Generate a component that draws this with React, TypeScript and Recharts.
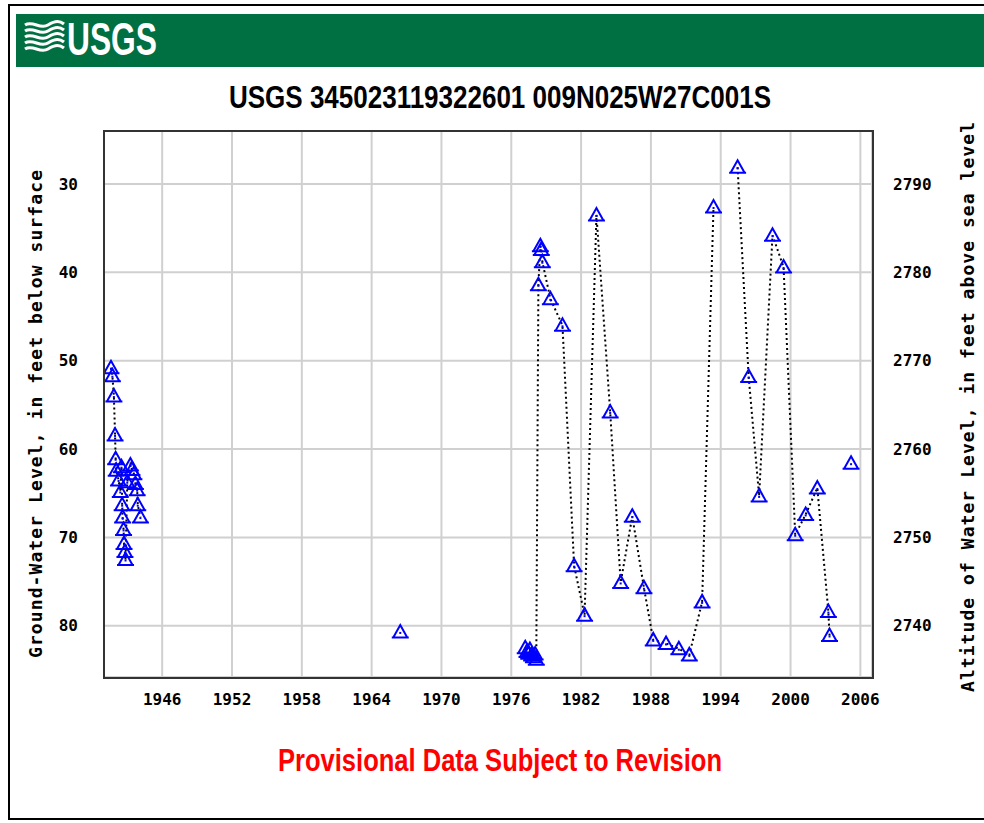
import React from 'react';
import { LineChart, Line, XAxis, YAxis, CartesianGrid } from 'recharts';

// depth to water (ft below land surface)
const early1940s = [
  { year: 1941.6, depth: 50.8 },
  { year: 1941.72, depth: 51.7 },
  { year: 1941.85, depth: 54.0 },
  { year: 1941.95, depth: 58.4 },
  { year: 1942.0, depth: 61.1 },
  { year: 1942.05, depth: 62.4 },
  { year: 1942.25, depth: 63.5 },
  { year: 1942.4, depth: 64.8 },
  { year: 1942.5, depth: 62.0 },
  { year: 1942.56, depth: 66.3 },
  { year: 1942.6, depth: 67.7 },
  { year: 1942.68, depth: 69.1 },
  { year: 1942.72, depth: 70.7 },
  { year: 1942.8, depth: 71.6 },
  { year: 1942.85, depth: 72.5 },
  { year: 1943.0, depth: 63.7 },
  { year: 1943.27, depth: 61.8 },
  { year: 1943.4, depth: 62.3 },
  { year: 1943.57, depth: 62.8 },
  { year: 1943.7, depth: 63.9 },
  { year: 1943.85, depth: 64.6 },
  { year: 1943.9, depth: 66.3 },
  { year: 1944.13, depth: 67.7 },
];

const mid1960s = [{ year: 1966.46, depth: 80.7 }];

const late1970sTo1993 = [
  { year: 1977.2, depth: 82.5 },
  { year: 1977.35, depth: 82.9 },
  { year: 1977.5, depth: 83.1 },
  { year: 1977.6, depth: 82.7 },
  { year: 1977.75, depth: 83.3 },
  { year: 1977.9, depth: 83.5 },
  { year: 1978.05, depth: 83.2 },
  { year: 1978.15, depth: 83.8 },
  { year: 1978.33, depth: 41.4 },
  { year: 1978.5, depth: 37.0 },
  { year: 1978.58, depth: 37.4 },
  { year: 1978.67, depth: 38.8 },
  { year: 1979.36, depth: 43.0 },
  { year: 1980.4, depth: 46.0 },
  { year: 1981.4, depth: 73.2 },
  { year: 1982.3, depth: 78.8 },
  { year: 1983.32, depth: 33.5 },
  { year: 1984.5, depth: 55.8 },
  { year: 1985.4, depth: 75.1 },
  { year: 1986.4, depth: 67.6 },
  { year: 1987.4, depth: 75.7 },
  { year: 1988.2, depth: 81.6 },
  { year: 1989.3, depth: 82.0 },
  { year: 1990.4, depth: 82.6 },
  { year: 1991.3, depth: 83.3 },
  { year: 1992.4, depth: 77.3 },
  { year: 1993.38, depth: 32.6 },
];

const mid1990sTo2003 = [
  { year: 1995.45, depth: 28.1 },
  { year: 1996.4, depth: 51.8 },
  { year: 1997.3, depth: 65.3 },
  { year: 1998.45, depth: 35.8 },
  { year: 1999.4, depth: 39.4 },
  { year: 2000.4, depth: 69.7 },
  { year: 2001.3, depth: 67.4 },
  { year: 2002.3, depth: 64.4 },
  { year: 2003.25, depth: 78.4 },
  { year: 2003.35, depth: 81.1 },
];

const latest = [{ year: 2005.2, depth: 61.6 }];

const segments = [early1940s, mid1960s, late1970sTo1993, mid1990sTo2003, latest];

const yearTicks = [1946, 1952, 1958, 1964, 1970, 1976, 1982, 1988, 1994, 2000, 2006];
const depthTicks = [30, 40, 50, 60, 70, 80];
const altitudeTicks = [2740, 2750, 2760, 2770, 2780, 2790];

const LAND_SURFACE = 2820;
const DEPTH_DOMAIN: [number, number] = [24, 85.8];

const mono = '"DejaVu Sans Mono", monospace';

const tickFont = {
  fontSize: 16,
  fontFamily: mono,
  fontWeight: 'bold',
  fill: '#000',
};

const narrowBold = '"Liberation Sans Narrow", "Liberation Sans", Arial, sans-serif';

const Triangle = (props: any) => {
  const { cx, cy } = props;
  if (cx == null || cy == null) return null;
  return (
    <g>
      <path
        d={`M${cx - 8.5},${cy + 5.5}H${cx + 8.5}M${cx - 7},${cy + 5.5}L${cx},${cy - 7}L${cx + 7},${cy + 5.5}`}
        fill="none"
        stroke="#0000ff"
        strokeWidth={2}
      />
      <rect x={cx - 1} y={cy} width={2} height={2} fill="#0000ff" />
    </g>
  );
};

export default function App() {
  return (
    <div
      style={{
        position: 'absolute',
        left: 0,
        top: 0,
        width: 984,
        height: 823,
        overflow: 'hidden',
        background: '#fff',
      }}
    >
      <svg width={984} height={823} style={{ position: 'absolute', left: 0, top: 0 }}>
        <rect x={9} y={5} width={1000} height={814} fill="none" stroke="#000" strokeWidth={2} />
        <rect x={16} y={14} width={968} height={53} fill="#006f41" />
        {/* logo waves */}
        {[25, 31, 37, 43, 49].map((y, i) => (
          <path
            key={i}
            d={`M25,${y} C33,${y - 5} 40,${y + 5} 48,${y} S60,${y - 4} 64,${y - 1}`}
            fill="none"
            stroke="#fff"
            strokeWidth={3.2}
          />
        ))}
        <text
          x={67}
          y={55}
          fontFamily={narrowBold}
          fontWeight="bold"
          fontSize={47}
          fill="#fff"
          textLength={90}
          lengthAdjust="spacingAndGlyphs"
        >
          USGS
        </text>
        <text
          x={500}
          y={108}
          textAnchor="middle"
          fontFamily={narrowBold}
          fontWeight="bold"
          fontSize={31}
          fill="#000"
          textLength={542}
          lengthAdjust="spacingAndGlyphs"
        >
          USGS 345023119322601 009N025W27C001S
        </text>
        <text
          transform="translate(35,414) rotate(-90)"
          textAnchor="middle"
          dominantBaseline="central"
          fontFamily={mono}
          fontWeight="bold"
          fontSize={18}
          textLength={488}
          lengthAdjust="spacing"
        >
          Ground-Water Level, in feet below surface
        </text>
        <text
          transform="translate(967,407) rotate(-90)"
          textAnchor="middle"
          dominantBaseline="central"
          fontFamily={mono}
          fontWeight="bold"
          fontSize={18}
          textLength={570}
          lengthAdjust="spacing"
        >
          Altitude of Water Level, in feet above sea level
        </text>
        <text
          x={500}
          y={771}
          textAnchor="middle"
          fontFamily={narrowBold}
          fontWeight="bold"
          fontSize={32}
          fill="#ff0000"
          textLength={444}
          lengthAdjust="spacingAndGlyphs"
        >
          Provisional Data Subject to Revision
        </text>
      </svg>

      <div style={{ position: 'absolute', left: 0, top: 0 }}>
        <LineChart width={984} height={823} margin={{ top: 131, right: 52, bottom: 106, left: 44 }}>
          <CartesianGrid yAxisId="left" stroke="#d0d0d0" strokeWidth={2} />
          <XAxis
            dataKey="year"
            type="number"
            domain={[1941, 2007]}
            ticks={yearTicks}
            allowDataOverflow
            axisLine={false}
            tickLine={false}
            tickSize={0}
            tickMargin={17}
            height={40}
            tick={tickFont}
          />
          <YAxis
            yAxisId="left"
            type="number"
            domain={DEPTH_DOMAIN}
            reversed
            ticks={depthTicks}
            allowDataOverflow
            axisLine={false}
            tickLine={false}
            tickSize={0}
            tickMargin={26}
            width={60}
            tick={tickFont}
          />
          <YAxis
            yAxisId="right"
            orientation="right"
            type="number"
            domain={[LAND_SURFACE - DEPTH_DOMAIN[1], LAND_SURFACE - DEPTH_DOMAIN[0]]}
            ticks={altitudeTicks}
            allowDataOverflow
            axisLine={false}
            tickLine={false}
            tickSize={0}
            tickMargin={21}
            width={60}
            tick={tickFont}
          />
          {segments.map((seg, i) => (
            <Line
              key={i}
              yAxisId="left"
              data={seg}
              dataKey="depth"
              type="linear"
              stroke="#000"
              strokeWidth={2}
              strokeDasharray="2 3"
              dot={(p: any) => <Triangle key={p.index} cx={p.cx} cy={p.cy} />}
              activeDot={false}
              isAnimationActive={false}
            />
          ))}
        </LineChart>
      </div>

      <div
        style={{
          position: 'absolute',
          left: 103,
          top: 130,
          width: 771,
          height: 549,
          boxSizing: 'border-box',
          border: '2px solid #333',
          pointerEvents: 'none',
        }}
      />
    </div>
  );
}
